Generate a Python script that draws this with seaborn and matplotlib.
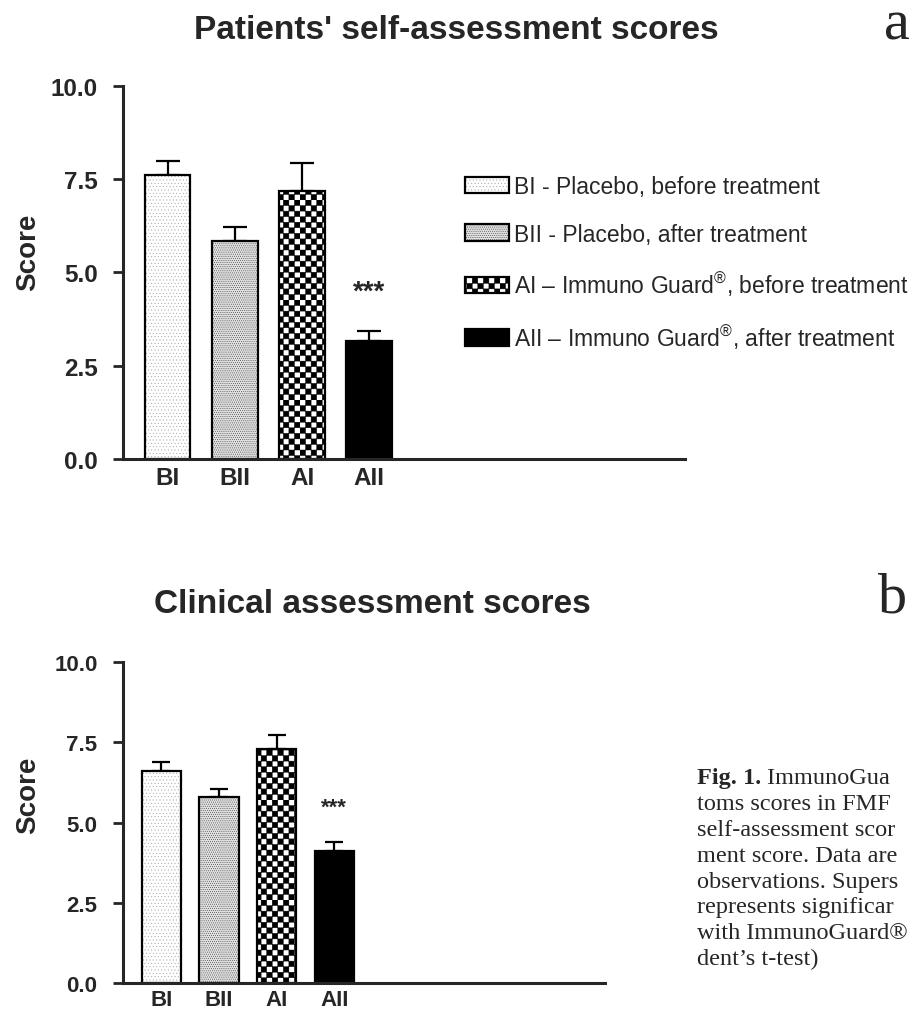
import numpy as np
import matplotlib
matplotlib.use("Agg")
import matplotlib.pyplot as plt
import matplotlib.hatch as mhatch
from matplotlib.path import Path
from matplotlib.colors import to_rgba
import seaborn as sns

# ---------------- data ----------------
groups = ["BI", "BII", "AI", "AII"]
legend_labels = [
    "BI - Placebo, before treatment",
    "BII - Placebo, after treatment",
    r"AI – Immuno Guard$^{®}$, before treatment",
    r"AII – Immuno Guard$^{®}$, after treatment",
]
self_mean = [7.60, 5.83, 7.17, 3.15]
self_sem = [0.37, 0.38, 0.76, 0.27]
clin_mean = [6.60, 5.80, 7.30, 4.13]
clin_sem = [0.28, 0.26, 0.43, 0.26]
sig_marks = ["", "", "", "***"]
y_ticks = [0.0, 2.5, 5.0, 7.5, 10.0]
caption_lines = [
    "toms scores in FMF",
    "self-assessment scor",
    "ment score. Data are",
    "observations. Supers",
    "represents significar",
    "with ImmunoGuard®",
    "dent’s t-test)",
]

# ---------------- style ----------------
sns.set_style("ticks")
plt.rcParams["font.family"] = ["Liberation Sans", "DejaVu Sans"]
plt.rcParams["mathtext.fontset"] = "custom"
plt.rcParams["mathtext.rm"] = "Liberation Sans"
plt.rcParams["mathtext.it"] = "Liberation Sans:italic"
plt.rcParams["mathtext.bf"] = "Liberation Sans:bold"
plt.rcParams["hatch.linewidth"] = 0.3


class CheckerHatch(mhatch.HatchPatternBase):
    """Filled checkerboard cells, selected by '*' in a hatch string."""

    def __init__(self, hatch, density):
        n = int(hatch.count("*") * density)
        self.n = n + (n % 2)
        self.num_vertices = (self.n * self.n // 2) * 5

    def set_vertices_and_codes(self, vertices, codes):
        c = 1.0 / self.n
        square = np.array([[0, 0], [c, 0], [c, c], [0, c], [0, 0]], float)
        scodes = [Path.MOVETO, Path.LINETO, Path.LINETO, Path.LINETO, Path.CLOSEPOLY]
        k = 0
        for i in range(self.n):
            for j in range(self.n):
                if (i + j) % 2 == 0:
                    vertices[k:k + 5] = square + [i * c, j * c]
                    codes[k:k + 5] = scodes
                    k += 5


mhatch._hatch_types = [CheckerHatch if t is mhatch.Stars else t
                       for t in mhatch._hatch_types]

bar_faces = ["white", "#e0e0e0", "white", "black"]
bar_hatches = [".....", "........", "***", ""]
hatch_colors = ["#a0a0a0", "#2a2a2a", "black", "black"]

W, H = 913, 1012
fig = plt.figure(figsize=(W / 100, H / 100), dpi=100)


def fx(px):
    return px / W


def fy(py):
    return 1 - py / H


def panel(ax, means, sems, tick_fs, cap, star_fs, xpad):
    sns.barplot(x=groups, y=means, order=groups, color="white",
                edgecolor="black", linewidth=1.6, width=0.68,
                saturation=1, errorbar=None, ax=ax)
    for p, fc, h, hc in zip(ax.patches, bar_faces, bar_hatches, hatch_colors):
        p.set_facecolor(fc)
        p.set_edgecolor("black")
        p.set_hatch(h)
        p._hatch_color = to_rgba(hc)
    x = np.arange(len(groups))
    ax.errorbar(x, means, yerr=[np.zeros(len(groups)), sems], fmt="none",
                ecolor="black", elinewidth=1.6, capsize=cap, capthick=1.6,
                zorder=0.5)
    for xi, m, s, mark in zip(x, means, sems, sig_marks):
        if mark:
            ax.annotate(mark, xy=(xi, m + s + 1.34), xytext=(0, -0.62 * star_fs),
                        textcoords="offset points", ha="center", va="baseline",
                        fontsize=star_fs, fontweight="bold")
    ax.set_xlim(-0.66, 7.7)
    ax.set_ylim(0, 10)
    ax.set_yticks(y_ticks, labels=[f"{v:.1f}" for v in y_ticks],
                  fontsize=tick_fs, fontweight="bold")
    ax.set_xticks(x, labels=groups, fontsize=tick_fs, fontweight="bold")
    ax.set_xlabel("")
    sns.despine(ax=ax)
    for s in ("left", "bottom"):
        ax.spines[s].set_linewidth(2.2)
    ax.tick_params(axis="y", length=7.5, width=2, pad=11)
    ax.tick_params(axis="x", length=0, pad=xpad)


# ---------------- panel a ----------------
ax1 = fig.add_axes([fx(123.3), fy(460), fx(685) - fx(123.3), (460 - 86.7) / H])
panel(ax1, self_mean, self_sem, 17.5, 8.3, 20, 5)
ax1.set_ylabel("Score", fontsize=20, fontweight="bold", va="center")
ax1.yaxis.set_label_coords((28 - 123.3) / (685 - 123.3), (460 - 252) / (460 - 86.7))
ax1.legend(handles=ax1.patches[:4], labels=legend_labels, loc="upper left",
           bbox_to_anchor=(fx(465), fy(176)), bbox_transform=fig.transFigure,
           frameon=False, fontsize=16.5, handlelength=1.9, handleheight=0.75,
           handletextpad=0.25, labelspacing=1.07, borderpad=0, borderaxespad=0)

# ---------------- panel b ----------------
ax2 = fig.add_axes([fx(123.3), fy(984), fx(605) - fx(123.3), (984 - 663.3) / H])
panel(ax2, clin_mean, clin_sem, 16, 6.5, 16, 4)
ax2.set_ylabel("Score", fontsize=20, fontweight="bold", va="center")
ax2.yaxis.set_label_coords((28 - 123.3) / (605 - 123.3), (984 - 795) / (984 - 663.3))

# ---------------- titles and panel letters ----------------
fig.text(fx(456), fy(39), "Patients' self-assessment scores", ha="center",
         va="baseline", fontsize=24, fontweight="bold")
fig.text(fx(372), fy(613), "Clinical assessment scores", ha="center",
         va="baseline", fontsize=24, fontweight="bold")
fig.text(fx(897), fy(39), "a", ha="center", va="baseline", fontsize=42,
         family="Liberation Serif")
fig.text(fx(893), fy(613), "b", ha="center", va="baseline", fontsize=42,
         family="Liberation Serif")

# ---------------- caption ----------------
cap_fs = 17.5
t0 = fig.text(fx(697), fy(784), "Fig. 1.", ha="left", va="baseline",
              fontsize=cap_fs, fontweight="bold", family="Liberation Serif")
ax2.annotate(" ImmunoGua", xy=(1, 0), xycoords=t0, ha="left", va="bottom",
             fontsize=cap_fs, family="Liberation Serif", annotation_clip=False)
for k, line in enumerate(caption_lines, start=1):
    fig.text(fx(697), fy(784 + 25.9 * k), line, ha="left", va="baseline",
             fontsize=cap_fs, family="Liberation Serif")

fig.savefig("out.png", dpi=100)
